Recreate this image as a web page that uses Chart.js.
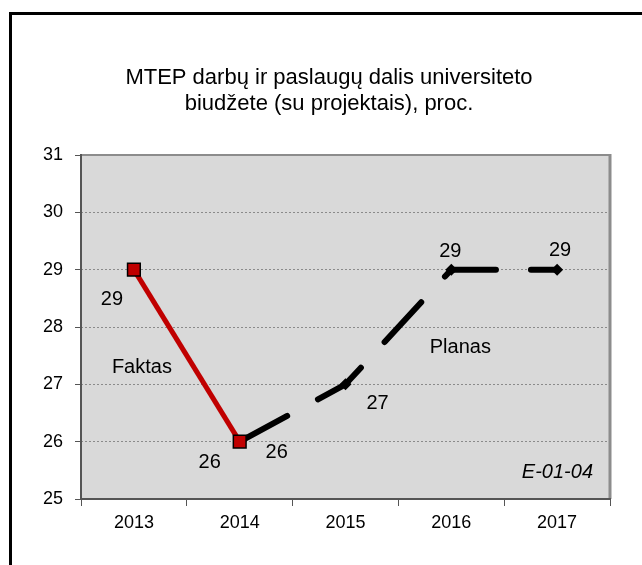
<!DOCTYPE html>
<html>
<head>
<meta charset="utf-8">
<script src="https://cdn.jsdelivr.net/npm/chart.js@4.4.1/dist/chart.umd.min.js"></script>
<style>
  html,body{margin:0;padding:0;background:#fff}
  #wrap{width:642px;height:565px;position:relative}
</style>
</head>
<body>
<div id="wrap"><canvas id="c" width="642" height="565"></canvas></div>
<script>
// MTEP share of university budget, percent
const years = ['2013','2014','2015','2016','2017'];
const faktas = [29, 26, null, null, null];
const planas = [null, 26, 27, 29, 29];
const titleLines = ['MTEP darbų ir paslaugų dalis universiteto', 'biudžete (su projektais), proc.'];

const FONT = '"Liberation Sans", Arial, sans-serif';

// label offsets from the point, per dataset/index
const labelOffsets = [
  [[-22, 30], [-30, 21], null, null, null],
  [null, [37, 11], [32, 19], [-1, -18], [3, -19]]
];

const decor = {
  id: 'decor',
  beforeDraw(chart){
    const ctx = chart.ctx, a = chart.chartArea;
    ctx.save();
    ctx.fillStyle = '#fff';
    ctx.fillRect(0, 0, chart.width, chart.height);
    // outer frame (only left/top visible)
    ctx.strokeStyle = '#000';
    ctx.lineWidth = 3;
    ctx.beginPath();
    ctx.moveTo(10.5, chart.height + 5);
    ctx.lineTo(10.5, 13.5);
    ctx.lineTo(chart.width + 5, 13.5);
    ctx.stroke();
    // plot bg
    ctx.fillStyle = '#d9d9d9';
    ctx.fillRect(a.left, a.top, a.right - a.left, a.bottom - a.top);
    // title
    ctx.fillStyle = '#000';
    ctx.font = '22px ' + FONT;
    ctx.textAlign = 'center';
    ctx.textBaseline = 'middle';
    ctx.fillText(titleLines[0], 329, 78);
    ctx.fillText(titleLines[1], 329, 104);
    ctx.restore();
  },
  afterDatasetsDraw(chart){
    const ctx = chart.ctx, a = chart.chartArea;
    const x = chart.scales.x, y = chart.scales.y;
    ctx.save();
    // frame
    ctx.lineWidth = 2;
    ctx.strokeStyle = '#8c8c8c';
    ctx.beginPath();
    ctx.moveTo(a.left, a.top); ctx.lineTo(a.right, a.top);
    ctx.stroke();
    ctx.lineWidth = 3;
    ctx.beginPath();
    ctx.moveTo(a.right, a.top - 1); ctx.lineTo(a.right, a.bottom);
    ctx.stroke();
    ctx.strokeStyle = '#555';
    ctx.lineWidth = 2;
    ctx.beginPath();
    ctx.moveTo(a.left, a.top - 1); ctx.lineTo(a.left, a.bottom); ctx.lineTo(a.right + 1, a.bottom);
    ctx.stroke();

    // value labels
    ctx.fillStyle = '#000';
    ctx.font = '20px ' + FONT;
    ctx.textAlign = 'center';
    ctx.textBaseline = 'middle';
    chart.data.datasets.forEach((ds, di) => {
      const meta = chart.getDatasetMeta(di);
      ds.data.forEach((v, i) => {
        const off = labelOffsets[di][i];
        if (v === null || !off) return;
        const p = meta.data[i];
        ctx.fillText(String(v), p.x + off[0], p.y + off[1]);
      });
    });

    // series notes
    ctx.fillText('Faktas', x.getPixelForValue(0) + 8, y.getPixelForValue(27.3));
    ctx.fillText('Planas', x.getPixelForValue(3) + 9, y.getPixelForValue(27.65));
    ctx.font = 'italic 20px ' + FONT;
    ctx.textAlign = 'right';
    ctx.fillText('E-01-04', a.right - 17, y.getPixelForValue(25.47));
    ctx.restore();
  }
};

new Chart(document.getElementById('c'), {
  type: 'line',
  data: {
    labels: years,
    datasets: [
      {
        label: 'Faktas',
        data: faktas,
        borderColor: '#c00000',
        borderWidth: 5,
        pointStyle: 'rect',
        pointRadius: 9,
        pointBackgroundColor: '#c00000',
        pointBorderColor: '#000',
        pointBorderWidth: 1.5,
        tension: 0,
        order: 0
      },
      {
        label: 'Planas',
        data: planas,
        borderColor: '#000',
        borderWidth: 6,
        borderDash: [54, 35],
        borderCapStyle: 'round',
        borderJoinStyle: 'round',
        pointStyle: 'rectRot',
        pointRadius: 6,
        pointBackgroundColor: '#000',
        pointBorderColor: '#000',
        pointBorderWidth: 0,
        tension: 0,
        order: 1
      }
    ]
  },
  options: {
    responsive: false,
    animation: false,
    devicePixelRatio: 1,
    spanGaps: false,
    layout: { padding: { left: 0, top: 155, right: 32, bottom: 0 } },
    plugins: {
      legend: { display: false },
      title: { display: false },
      tooltip: { enabled: false }
    },
    scales: {
      x: {
        offset: true,
        grid: {
          offset: true,
          drawOnChartArea: false,
          drawTicks: true,
          tickLength: 7,
          tickColor: '#555',
          tickWidth: 1
        },
        border: { display: false },
        ticks: { color: '#000', font: { family: FONT, size: 18 }, padding: 6, maxRotation: 0 },
        afterFit(s){ s.height = 66; }
      },
      y: {
        min: 25,
        max: 31,
        ticks: { stepSize: 1, color: '#000', font: { family: FONT, size: 18 }, padding: 12 },
        grid: {
          color: '#8a8a8a',
          lineWidth: 1,
          tickLength: 6,
          tickColor: '#555',
          tickWidth: 1,
          tickBorderDash: []
        },
        border: { display: false, dash: [2, 2] },
        afterFit(s){ s.width = 81; }
      }
    }
  },
  plugins: [decor]
});
</script>
</body>
</html>
